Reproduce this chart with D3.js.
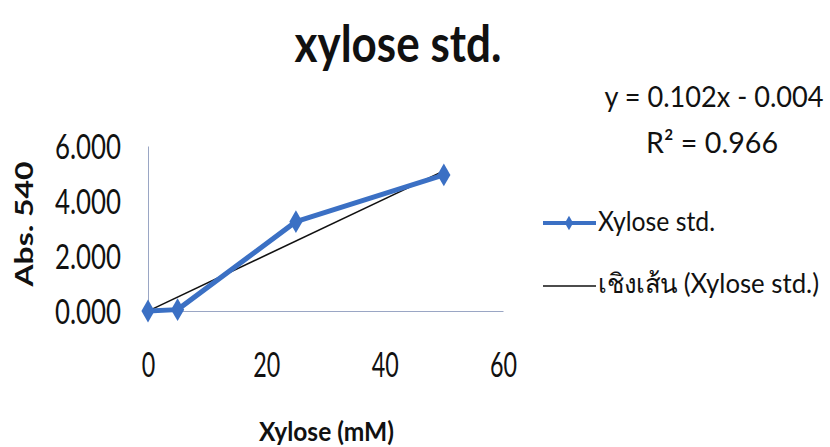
<!DOCTYPE html>
<html>
<head>
<meta charset="utf-8">
<script src="https://cdn.jsdelivr.net/npm/d3@7"></script>
<style>
  html, body { margin: 0; padding: 0; background: #ffffff; }
  svg { display: block; }
  text { font-family: Lato, "Noto Sans", "DejaVu Sans", sans-serif; fill: #111; }
</style>
</head>
<body>
<svg id="chart" width="830" height="447"></svg>
<script>
// Xylose standard curve: concentration (mM) vs absorbance at 540 nm
const xyloseMM = [0, 5, 25, 50];
const absorbance = [0.000, 0.050, 3.250, 4.950];

// Linear trendline reported on the chart
const slope = 0.102;
const intercept = -0.004;
const rSquared = 0.966;

const xTicks = [0, 20, 40, 60];
const yTicks = [0, 2, 4, 6];

const chartTitle = "xylose std.";
const xTitle = "Xylose (mM)";
const yTitle = "Abs. 540";
const seriesName = "Xylose std.";
const trendName = "เชิงเส้น (Xylose std.)";

const blue = "#3b70c4";
const axisColor = "#9aa6c4";

const svg = d3.select("#chart");

const x = d3.scaleLinear().domain([0, 60]).range([148, 503]);
const y = d3.scaleLinear().domain([0, 6]).range([311, 146]);

// helper: text fitted to a given width
function fitText(sel, width) {
  sel.attr("textLength", width).attr("lengthAdjust", "spacingAndGlyphs");
  return sel;
}

// Title
fitText(svg.append("text")
  .attr("x", 398).attr("y", 62)
  .attr("text-anchor", "middle")
  .attr("font-size", 52).attr("font-weight", 700)
  .text(chartTitle), 207);

// Y axis
const yAxis = svg.append("g")
  .attr("transform", `translate(${x(0)},0)`)
  .call(d3.axisLeft(y).tickValues(yTicks).tickFormat(d3.format(".3f")).tickSize(0).tickPadding(27));
yAxis.select(".domain").attr("stroke", axisColor).attr("stroke-width", 1);
yAxis.selectAll("text")
  .attr("font-size", 34).attr("fill", "#111")
  .attr("font-family", "Lato, sans-serif")
  .attr("dy", "0.36em")
  .attr("textLength", 66).attr("lengthAdjust", "spacingAndGlyphs");

// X axis
const xAxis = svg.append("g")
  .attr("transform", `translate(0,${y(0)})`)
  .call(d3.axisBottom(x).tickValues(xTicks).tickFormat(d3.format("d")).tickSize(0).tickPadding(41));
xAxis.select(".domain").attr("stroke", axisColor).attr("stroke-width", 1);
xAxis.selectAll("text")
  .attr("font-size", 35).attr("fill", "#111")
  .attr("font-family", "Lato, sans-serif")
  .attr("dy", "0.71em")
  .each(function(d) {
    const w = String(d).length === 1 ? 13.5 : 27;
    d3.select(this).attr("textLength", w).attr("lengthAdjust", "spacingAndGlyphs");
  });

// Axis titles
fitText(svg.append("text")
  .attr("x", (x(0) + x(60)) / 2 + 1).attr("y", 441)
  .attr("text-anchor", "middle")
  .attr("font-size", 27).attr("font-weight", 700)
  .text(xTitle), 135);

fitText(svg.append("text")
  .attr("transform", "translate(33,224) rotate(-90)")
  .attr("text-anchor", "middle")
  .attr("font-size", 25).attr("font-weight", 700)
  .text(yTitle), 125);

// Linear trendline over the data range
const xMin = d3.min(xyloseMM), xMax = d3.max(xyloseMM);
svg.append("line")
  .attr("x1", x(xMin)).attr("y1", y(slope * xMin + intercept))
  .attr("x2", x(xMax)).attr("y2", y(slope * xMax + intercept))
  .attr("stroke", "#111").attr("stroke-width", 1.6);

// Data series
const pts = xyloseMM.map((v, i) => [v, absorbance[i]]);
svg.append("path")
  .datum(pts)
  .attr("fill", "none")
  .attr("stroke", blue)
  .attr("stroke-width", 5)
  .attr("stroke-linejoin", "round")
  .attr("d", d3.line().x(d => x(d[0])).y(d => y(d[1])));

const diamond = d3.symbol().type(d3.symbolDiamond).size(150);
svg.append("g").selectAll("path")
  .data(pts)
  .join("path")
  .attr("transform", d => `translate(${x(d[0])},${y(d[1])})`)
  .attr("d", diamond)
  .attr("fill", blue);

// Trendline equation
fitText(svg.append("text")
  .attr("x", 714).attr("y", 107)
  .attr("text-anchor", "middle")
  .attr("font-size", 28)
  .text(`y = ${slope.toFixed(3)}x - ${Math.abs(intercept).toFixed(3)}`), 219);
fitText(svg.append("text")
  .attr("x", 712).attr("y", 153)
  .attr("text-anchor", "middle")
  .attr("font-size", 29)
  .text(`R² = ${rSquared.toFixed(3)}`), 132);

// Legend
const legend = svg.append("g");
legend.append("line")
  .attr("x1", 543).attr("x2", 596).attr("y1", 223).attr("y2", 223)
  .attr("stroke", blue).attr("stroke-width", 4);
legend.append("path")
  .attr("transform", "translate(569,223)")
  .attr("d", d3.symbol().type(d3.symbolDiamond).size(60))
  .attr("fill", blue);
fitText(legend.append("text")
  .attr("x", 598).attr("y", 231)
  .attr("font-size", 27)
  .text(seriesName), 117);

legend.append("line")
  .attr("x1", 543).attr("x2", 596).attr("y1", 286).attr("y2", 286)
  .attr("stroke", "#111").attr("stroke-width", 1.6);
fitText(legend.append("text")
  .attr("x", 598).attr("y", 293)
  .attr("font-size", 27)
  .text(trendName), 221);
</script>
</body>
</html>
